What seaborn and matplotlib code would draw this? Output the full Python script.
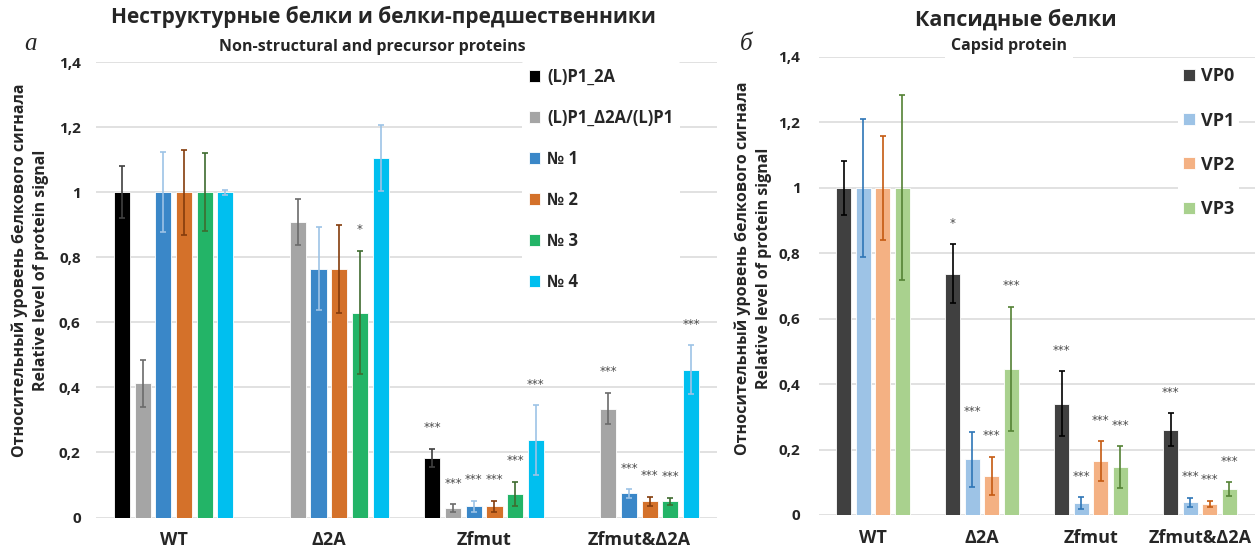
import numpy as np
import pandas as pd
import matplotlib
matplotlib.use('Agg')
import matplotlib.pyplot as plt
from matplotlib.container import BarContainer
import seaborn as sns

groups = ['WT', 'Δ2A', 'Zfmut', 'Zfmut&Δ2A']

# панель а - неструктурные белки
ns_series = ['(L)P1_2A', '(L)P1_Δ2A/(L)P1', '№ 1', '№ 2', '№ 3', '№ 4']
p1_2a = [1.0, np.nan, 0.183, np.nan]
p1_2a_err = [0.079, np.nan, 0.029, np.nan]
p1_d2a = [0.412, 0.908, 0.029, 0.335]
p1_d2a_err = [0.072, 0.070, 0.012, 0.049]
n1 = [1.0, 0.765, 0.035, 0.074]
n1_err = [0.123, 0.128, 0.017, 0.014]
n2 = [1.0, 0.765, 0.035, 0.050]
n2_err = [0.131, 0.135, 0.017, 0.014]
n3 = [1.0, 0.630, 0.073, 0.050]
n3_err = [0.120, 0.190, 0.037, 0.011]
n4 = [1.0, 1.105, 0.238, 0.454]
n4_err = [0.008, 0.100, 0.108, 0.075]
ns_stars = [['', '', '***', ''],
            ['', '', '***', '***'],
            ['', '', '***', '***'],
            ['', '', '***', '***'],
            ['', '*', '***', '***'],
            ['', '', '***', '***']]

# панель б - капсидные белки
cp_series = ['VP0', 'VP1', 'VP2', 'VP3']
vp0 = [1.0, 0.737, 0.340, 0.261]
vp0_err = [0.082, 0.090, 0.099, 0.050]
vp1 = [1.0, 0.170, 0.036, 0.039]
vp1_err = [0.210, 0.083, 0.019, 0.014]
vp2 = [1.0, 0.119, 0.165, 0.034]
vp2_err = [0.158, 0.059, 0.061, 0.010]
vp3 = [1.0, 0.446, 0.147, 0.079]
vp3_err = [0.283, 0.190, 0.064, 0.021]
cp_stars = [['', '*', '***', '***'],
            ['', '***', '***', '***'],
            ['', '***', '***', '***'],
            ['', '***', '***', '***']]

ns_colors = ['#000000', '#A5A5A5', '#3A87C8', '#D4712A', '#23B467', '#00BFEF']
ns_ecolors = ['#404040', '#6B6B6B', '#9DC3E6', '#843C0C', '#3E6B2F', '#9DC3E6']
cp_colors = ['#404040', '#9DC3E6', '#F4B183', '#A9D18E']
cp_ecolors = ['#000000', '#2E75B6', '#C55A11', '#548235']

sns.set_style('white')
plt.rcParams['font.family'] = ['Open Sans', 'DejaVu Sans']

W, H = 1257, 554
fig = plt.figure(figsize=(W / 100, H / 100), dpi=100)


def fx(px):
    return px / W


def fy(py):
    return 1 - py / H


def tick_fmt(v):
    if abs(v) < 1e-9:
        return '0'
    if abs(v - 1) < 1e-9:
        return '1'
    return ('%.1f' % v).replace('.', ',')


def draw_panel(ax, series, vals, errs, stars, colors, ecolors, width, gap):
    rows = []
    for s, v in zip(series, vals):
        for g, val in zip(groups, v):
            if not np.isnan(val):
                rows.append({'group': g, 'series': s, 'value': val})
    df = pd.DataFrame(rows)
    sns.barplot(data=df, x='group', y='value', hue='series', order=groups,
                hue_order=series, palette=colors, width=width, gap=gap,
                errorbar=None, saturation=1, edgecolor='white', linewidth=0.6,
                ax=ax, zorder=2)
    bars = [c for c in ax.containers if isinstance(c, BarContainer)]
    for i, cont in enumerate(bars):
        for p in cont:
            xc = p.get_x() + p.get_width() / 2
            gi = int(round(xc))
            h = p.get_height()
            e = errs[i][gi]
            ax.errorbar(xc, h, yerr=e, fmt='none', ecolor=ecolors[i],
                        elinewidth=1.2, capsize=2.5, capthick=1.2, zorder=3)
            if stars[i][gi]:
                ax.text(xc, h + e + 0.064, stars[i][gi], ha='center', va='center',
                        fontsize=8.5, color='#4A4A4A', family='DejaVu Sans', zorder=4)
    ax.set_ylim(0, 1.4)
    ax.set_xlim(-0.5, 3.5)
    ticks = np.arange(0, 1.41, 0.2)
    ax.set_yticks(ticks)
    ax.set_yticklabels([tick_fmt(t) for t in ticks], fontsize=11, fontweight='bold')
    ax.set_xticks(range(4))
    ax.set_xticklabels(groups, fontsize=13, fontweight='bold')
    ax.tick_params(axis='both', length=0)
    ax.tick_params(axis='x', pad=10)
    ax.yaxis.grid(True, color='#D9D9D9', linewidth=1.1, zorder=0)
    ax.set_axisbelow(True)
    for sp in ax.spines.values():
        sp.set_visible(False)
    ax.set_xlabel('')
    ax.set_ylabel('')


ylab = 'Относительный уровень белкового сигнала\nRelative level of protein signal'

# левая панель
ax1 = fig.add_axes([fx(96), fy(517.5), fx(717 - 96), (517.5 - 62) / H])
draw_panel(ax1, ns_series, [p1_2a, p1_d2a, n1, n2, n3, n4],
           [p1_2a_err, p1_d2a_err, n1_err, n2_err, n3_err, n4_err],
           ns_stars, ns_colors, ns_ecolors, 0.8, 0.22)
ax1.tick_params(axis='y', pad=11)
h, l = ax1.get_legend_handles_labels()
ax1.legend(h, l, loc='upper left', bbox_to_anchor=(fx(522), fy(61)),
           bbox_transform=fig.transFigure, frameon=True, facecolor='white',
           edgecolor='none', framealpha=1, prop={'weight': 'bold', 'size': 12},
           handlelength=0.7, handleheight=0.7, handletextpad=0.4,
           labelspacing=1.38, borderpad=0.4, borderaxespad=0)

# правая панель
ax2 = fig.add_axes([fx(818.5), fy(515), fx(1254.5 - 818.5), (515 - 57) / H])
draw_panel(ax2, cp_series, [vp0, vp1, vp2, vp3],
           [vp0_err, vp1_err, vp2_err, vp3_err],
           cp_stars, cp_colors, cp_ecolors, 0.72, 0.24)
ax2.tick_params(axis='y', pad=13)
h, l = ax2.get_legend_handles_labels()
ax2.legend(h, l, loc='upper left', bbox_to_anchor=(fx(1178), fy(62)),
           bbox_transform=fig.transFigure, frameon=True, facecolor='white',
           edgecolor='none', framealpha=1, prop={'weight': 'bold', 'size': 13},
           handlelength=0.65, handleheight=0.65, handletextpad=0.3,
           labelspacing=1.45, borderpad=0.3, borderaxespad=0)

# заголовки
fig.text(fx(383), fy(17), 'Неструктурные белки и белки-предшественники',
         ha='center', va='center', fontsize=15, fontweight='bold')
fig.text(fx(372), fy(47), 'Non-structural and precursor proteins',
         ha='center', va='center', fontsize=11.5, fontweight='bold')
fig.text(fx(1016), fy(20), 'Капсидные белки',
         ha='center', va='center', fontsize=15.5, fontweight='bold')
fig.text(fx(1009), fy(46), 'Capsid protein', ha='center', va='center',
         fontsize=11.5, fontweight='bold',
         bbox=dict(facecolor='white', edgecolor='none', pad=4))
fig.text(fx(31), fy(44), 'а', ha='center', va='center', fontsize=18,
         style='italic', family='Liberation Serif')
fig.text(fx(746), fy(44), 'б', ha='center', va='center', fontsize=18,
         style='italic', family='Liberation Serif')

fig.text(fx(30), fy(270), ylab, rotation=90, ha='center', va='center',
         multialignment='center', fontsize=11.5, fontweight='bold', linespacing=1.4)
fig.text(fx(753), fy(268), ylab, rotation=90, ha='center', va='center',
         multialignment='center', fontsize=11.5, fontweight='bold', linespacing=1.4)

fig.savefig('out.png', dpi=100)
